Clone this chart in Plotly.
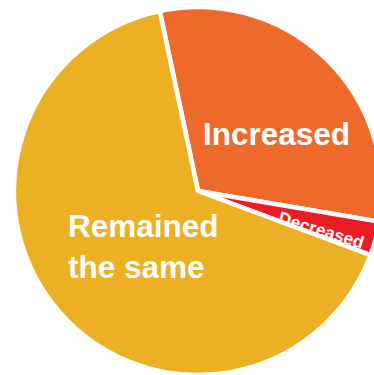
import plotly.graph_objects as go

labels = ["Increased", "Decreased", "Remained the same"]
values = [31, 3, 66]
colors = ["#EE6A2B", "#EC1C24", "#ECB024"]

W, H = 384, 375

fig = go.Figure(
    go.Pie(
        labels=labels,
        values=values,
        sort=False,
        direction="clockwise",
        rotation=-12,
        marker=dict(colors=colors, line=dict(color="white", width=4.5)),
        textinfo="none",
        hoverinfo="label+percent",
        domain=dict(x=[14 / W, 382 / W], y=[0, 368 / H]),
    )
)

font_family = "Liberation Sans, Arial, sans-serif"
fig.add_annotation(
    x=276.5 / W, y=1 - 134 / H, xref="paper", yref="paper",
    xanchor="center", yanchor="middle",
    text="<b>Increased</b>", showarrow=False,
    font=dict(family=font_family, size=31.5, color="white"),
)
fig.add_annotation(
    x=66 / W, y=1 - 246 / H, xref="paper", yref="paper",
    xanchor="left", yanchor="middle", align="left",
    text="<b>Remained<br>the same</b>", showarrow=False,
    font=dict(family=font_family, size=31.5, color="white"),
)
fig.add_annotation(
    x=321 / W, y=1 - 230 / H, xref="paper", yref="paper",
    xanchor="center", yanchor="middle",
    text="<b>Decreased</b>", showarrow=False, textangle=17,
    font=dict(family=font_family, size=17.5, color="white"),
)

fig.update_layout(
    width=W, height=H,
    margin=dict(l=0, r=0, t=0, b=0),
    paper_bgcolor="white", plot_bgcolor="white",
    showlegend=False,
)

fig.write_html(
    "out.html",
    config={"displayModeBar": False},
    post_script="document.body.style.margin='0';document.body.style.overflow='hidden';",
)
